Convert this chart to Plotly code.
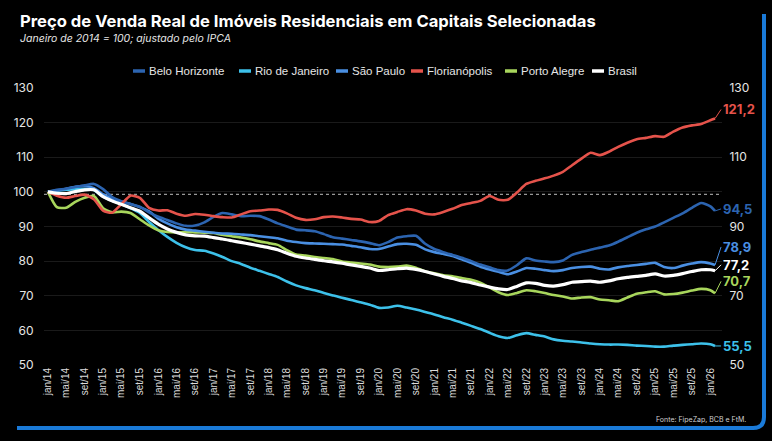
import plotly.graph_objects as go
import pandas as pd

# ---------------- data (bimonthly readings, jan/14 .. jan/26, plus fev/26) ----------------
dates = list(pd.date_range("2014-01-01", "2026-01-01", freq="2MS").strftime("%Y-%m-%d")) + ["2026-02-01"]

belo_horizonte = [100.0, 100.6, 100.9, 101.4, 101.9, 102.3, 100.8, 98.5, 97.3, 96.5,
                  95.7, 94.1, 92.8, 91.9, 90.9, 90.2, 90.3, 91.2, 92.8, 93.9,
                  93.5, 93.0, 93.1, 93.0, 92.0, 90.9, 90.0, 89.1, 88.9, 88.6,
                  87.8, 86.9, 86.5, 86.1, 85.7, 85.2, 84.6, 85.5, 86.8, 87.2,
                  87.3, 85.0, 83.5, 82.6, 81.8, 81.0, 80.0, 79.0, 78.2, 77.4,
                  77.3, 78.8, 80.8, 80.2, 79.9, 79.7, 80.2, 81.8, 82.6, 83.3,
                  83.9, 84.5, 85.6, 86.9, 88.2, 89.2, 90.0, 91.2, 92.5, 93.8,
                  95.4, 96.8, 95.8, 94.5]

rio_de_janeiro = [100.0, 100.4, 100.6, 100.8, 100.9, 100.5, 98.6, 97.4, 96.5, 95.3,
                  93.9, 91.3, 89.0, 87.0, 85.3, 84.0, 83.2, 83.0, 82.2, 81.2,
                  80.0, 79.2, 78.1, 77.2, 76.3, 75.4, 74.1, 73.0, 72.2, 71.6,
                  70.8, 70.1, 69.4, 68.8, 68.1, 67.4, 66.5, 66.6, 67.1, 66.6,
                  66.0, 65.3, 64.6, 63.8, 63.1, 62.2, 61.3, 60.4, 59.3, 58.3,
                  57.8, 58.6, 59.2, 58.7, 58.2, 57.4, 57.0, 56.8, 56.5, 56.2,
                  56.0, 55.9, 55.9, 55.8, 55.6, 55.5, 55.3, 55.3, 55.6, 55.8,
                  56.0, 56.2, 56.0, 55.5]

sao_paulo = [100.0, 100.4, 100.9, 101.5, 101.7, 101.1, 99.3, 98.1, 97.2, 96.5,
             95.6, 94.4, 92.3, 90.9, 89.8, 89.1, 88.8, 88.5, 88.2, 88.0,
             87.9, 87.7, 87.5, 87.2, 86.9, 86.6, 85.9, 85.5, 85.2, 85.1,
             85.0, 84.9, 84.8, 84.4, 84.0, 83.5, 83.5, 84.2, 84.9, 85.0,
             84.7, 83.4, 82.6, 82.1, 81.5, 80.5, 79.5, 78.4, 77.6, 76.9,
             76.2, 77.0, 78.0, 77.8, 77.4, 77.1, 77.4, 78.0, 78.3, 78.4,
             77.8, 77.6, 78.2, 78.6, 78.9, 79.2, 79.5, 78.3, 78.0, 78.7,
             79.3, 79.7, 79.3, 78.9]

florianopolis = [100.0, 98.9, 98.3, 98.8, 99.2, 97.9, 94.6, 94.0, 96.4, 98.9,
                 98.3, 95.4, 94.6, 94.7, 93.7, 93.1, 93.6, 93.4, 93.0, 92.7,
                 92.6, 93.5, 94.4, 94.6, 94.9, 94.8, 93.8, 92.5, 91.9, 92.1,
                 92.7, 92.9, 92.6, 92.2, 92.0, 91.3, 91.6, 93.3, 94.2, 95.0,
                 94.6, 93.7, 93.5, 94.2, 95.1, 96.2, 96.8, 97.4, 98.8, 97.7,
                 97.7, 99.8, 102.3, 103.2, 103.9, 104.7, 105.8, 107.7, 109.6, 111.3,
                 110.6, 111.6, 113.0, 114.2, 115.2, 115.6, 116.1, 115.9, 117.4, 118.6,
                 119.2, 119.6, 120.7, 121.2]

porto_alegre = [100.0, 95.6, 95.4, 97.1, 98.3, 98.8, 95.3, 94.1, 94.3, 93.9,
                92.1, 90.3, 88.9, 88.4, 88.3, 88.4, 88.3, 88.2, 88.1, 87.6,
                87.2, 86.8, 86.3, 85.7, 85.2, 84.7, 83.2, 81.9, 81.6, 81.2,
                80.9, 80.6, 79.9, 79.6, 79.3, 79.0, 78.4, 78.3, 78.4, 78.7,
                78.1, 77.0, 76.5, 75.9, 75.6, 75.1, 74.6, 73.8, 72.4, 71.0,
                70.2, 70.8, 71.6, 71.3, 70.8, 70.2, 69.8, 69.2, 69.5, 69.6,
                68.9, 68.7, 68.4, 69.5, 70.6, 71.0, 71.3, 70.4, 70.5, 70.9,
                71.5, 72.0, 71.6, 70.7]

brasil = [100.0, 99.6, 99.5, 100.1, 100.6, 100.6, 98.6, 97.4, 96.4, 95.4,
          94.4, 92.5, 90.7, 89.3, 88.3, 87.6, 87.3, 87.2, 86.8, 86.4,
          85.9, 85.4, 84.9, 84.4, 83.9, 83.3, 82.3, 81.4, 80.9, 80.5,
          80.1, 79.8, 79.4, 78.9, 78.5, 78.0, 77.3, 77.5, 77.8, 78.0,
          77.6, 77.0, 76.3, 75.6, 75.0, 74.3, 73.8, 73.1, 72.5, 72.0,
          71.8, 72.7, 73.7, 73.6, 73.0, 72.8, 73.2, 73.9, 74.1, 74.2,
          73.9, 74.3, 74.9, 75.3, 75.6, 75.9, 76.3, 75.7, 75.9, 76.4,
          77.0, 77.5, 77.5, 77.2]

series_names = ["Belo Horizonte", "Rio de Janeiro", "São Paulo", "Florianópolis", "Porto Alegre", "Brasil"]
month_abbr = ["jan", "mai", "set"]
tick_dates = list(pd.date_range("2014-01-01", "2026-01-01", freq="4MS").strftime("%Y-%m-%d"))
tick_labels = [f"{month_abbr[(pd.Timestamp(d).month - 1) // 4]}/{str(pd.Timestamp(d).year)[2:]}" for d in tick_dates]
reference_level = 99.3
source_text = "Fonte: FipeZap, BCB e FtM."

# ---------------- styling ----------------
colors = {
    "Belo Horizonte": "#2c64b0",
    "Rio de Janeiro": "#3dc1ea",
    "São Paulo": "#4a8fe2",
    "Florianópolis": "#e5534b",
    "Porto Alegre": "#a8d65c",
    "Brasil": "#ffffff",
}
values = {
    "Belo Horizonte": belo_horizonte,
    "Rio de Janeiro": rio_de_janeiro,
    "São Paulo": sao_paulo,
    "Florianópolis": florianopolis,
    "Porto Alegre": porto_alegre,
    "Brasil": brasil,
}
label_shift = {"Belo Horizonte": -2, "Rio de Janeiro": 0, "São Paulo": -18,
               "Florianópolis": -9, "Porto Alegre": -12, "Brasil": -6}

W, H = 772, 441
L, R, T, B = 44, 50, 88, 76
PW, PH = W - L - R, H - T - B


def px(xp):
    return (xp - L) / PW


def py(yp):
    return (H - B - yp) / PH


FONT = "Inter, Arial, sans-serif"
SANS = "Liberation Sans, Arial, sans-serif"

fig = go.Figure()
draw_order = ["Rio de Janeiro", "Porto Alegre", "São Paulo", "Belo Horizonte", "Florianópolis", "Brasil"]
for name in draw_order:
    fig.add_trace(go.Scatter(
        x=dates, y=values[name], mode="lines", name=name,
        line=dict(color=colors[name], width=3.2 if name == "Brasil" else 2.6, shape="spline", smoothing=0.6),
        yaxis="y2" if name == "Brasil" else "y",
        showlegend=False, hoverinfo="x+y+name",
    ))

fig.update_layout(
    width=W, height=H,
    margin=dict(l=L, r=R, t=T, b=B),
    paper_bgcolor="#000000", plot_bgcolor="#000000",
    font=dict(family=FONT, color="#e6e6e6"),
    xaxis=dict(range=["2013-12-06", "2026-03-19"], tickvals=tick_dates, ticktext=tick_labels,
               tickangle=-90, tickfont=dict(size=10, color="#dcdcdc", family=SANS), showgrid=False,
               zeroline=False, showline=False, ticks=""),
    yaxis=dict(range=[50, 130], dtick=10, tickfont=dict(size=12, color="#e6e6e6"),
               gridcolor="rgba(255,255,255,0.10)", gridwidth=1, zeroline=False, showline=False,
               ticks="outside", ticklen=7, tickcolor="rgba(0,0,0,0)"),
    yaxis2=dict(range=[50, 130], overlaying="y", side="right", tickvals=[50, 70, 90, 110, 130],
                tickfont=dict(size=12, color="#e6e6e6"), showgrid=False, zeroline=False,
                showline=False, ticks="outside", ticklen=4, tickcolor="rgba(0,0,0,0)"),
    showlegend=False,
)

# reference dotted line
fig.add_shape(type="line", xref="paper", yref="y", x0=0, x1=1, y0=reference_level, y1=reference_level,
              line=dict(color="rgba(255,255,255,0.75)", width=1, dash="dot"), layer="below")

annotations = []
# title & subtitle
annotations.append(dict(xref="paper", yref="paper", x=px(18), y=py(21), xanchor="left", yanchor="middle",
                        text="<b>Preço de Venda Real de Imóveis Residenciais em Capitais Selecionadas</b>",
                        showarrow=False, font=dict(size=16.6, color="#ffffff", family=FONT)))
annotations.append(dict(xref="paper", yref="paper", x=px(18), y=py(38), xanchor="left", yanchor="middle",
                        text="<i>Janeiro de 2014 = 100; ajustado pelo IPCA</i>",
                        showarrow=False, font=dict(size=10.5, color="#e6e6e6", family=FONT)))

# manual legend
legend_sym_x = [133, 239, 336, 411, 505, 592]
for name, xs in zip(series_names, legend_sym_x):
    fig.add_shape(type="line", xref="paper", yref="paper", x0=px(xs), x1=px(xs + 12), y0=py(71), y1=py(71),
                  line=dict(color=colors[name], width=3.5))
    annotations.append(dict(xref="paper", yref="paper", x=px(xs + 14), y=py(71), xanchor="left",
                            yanchor="middle", text=name, showarrow=False,
                            font=dict(size=11.5, color="#e6e6e6", family=SANS)))

# end labels
for name in series_names:
    v = values[name][-1]
    annotations.append(dict(x=dates[-1], y=v, xref="x", yref="y",
                            text=f"<b>{v:.1f}</b>".replace(".", ","),
                            showarrow=True, arrowhead=0, arrowwidth=1, arrowcolor=colors[name],
                            ax=6, ay=label_shift[name], xanchor="left", yanchor="middle",
                            standoff=0, startstandoff=0,
                            font=dict(size=13, color=colors[name], family=FONT)))

# source
annotations.append(dict(xref="paper", yref="paper", x=px(748), y=py(419), xanchor="right", yanchor="middle",
                        text=source_text, showarrow=False, font=dict(size=7, color="#d0d0d0", family=FONT)))
fig.update_layout(annotations=annotations)

# decorative blue frame (right and bottom, rounded corner)
r = 11
path = (f"M {px(17)},{py(428)} L {px(764 - r)},{py(428)} "
        f"Q {px(764)},{py(428)} {px(764)},{py(428 - r)} L {px(764)},{py(14)}")
fig.add_shape(type="path", xref="paper", yref="paper", path=path,
              line=dict(color="#1a7ad8", width=4))

fig.write_html("out.html")
